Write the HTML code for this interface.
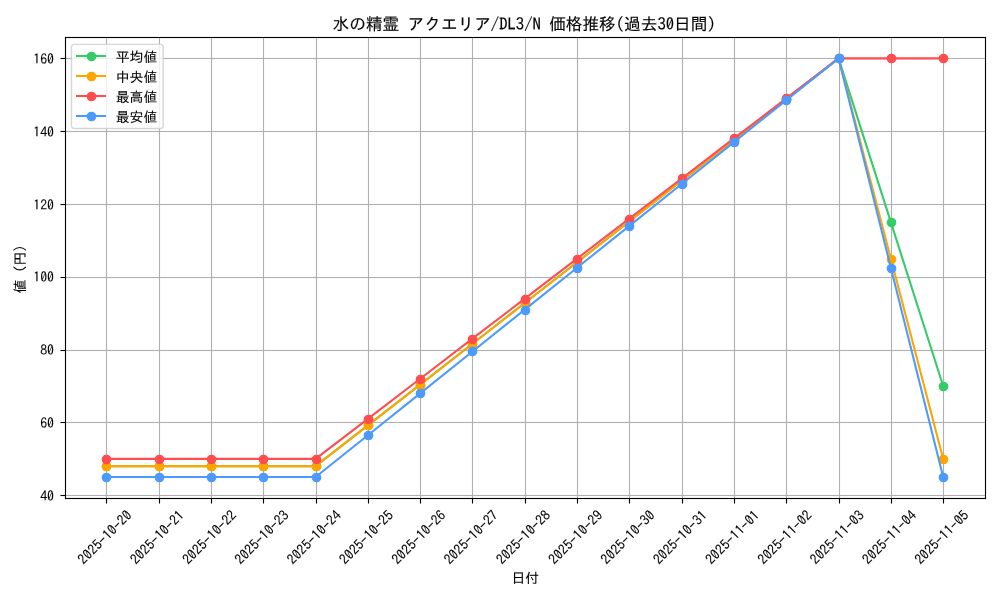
<!DOCTYPE html>
<html lang="ja"><head><meta charset="utf-8"><title>価格推移</title>
<style>html,body{margin:0;padding:0;background:#fff}body{width:1000px;height:600px;overflow:hidden}svg{display:block}text{font-family:IPAGothic,"Liberation Sans","Noto Sans CJK JP",sans-serif;fill:#000}</style></head><body>
<svg width="1000" height="600" viewBox="0 0 1000 600">
<rect width="1000" height="600" fill="#fff"/>
<g stroke="#b0b0b0" stroke-width="1.111" fill="none">
<path d="M106.5 37.40V498.00"/><path d="M159.5 37.40V498.00"/><path d="M211.5 37.40V498.00"/><path d="M263.5 37.40V498.00"/><path d="M316.5 37.40V498.00"/><path d="M368.5 37.40V498.00"/><path d="M420.5 37.40V498.00"/><path d="M472.5 37.40V498.00"/><path d="M525.5 37.40V498.00"/><path d="M577.5 37.40V498.00"/><path d="M629.5 37.40V498.00"/><path d="M682.5 37.40V498.00"/><path d="M734.5 37.40V498.00"/><path d="M786.5 37.40V498.00"/><path d="M839.5 37.40V498.00"/><path d="M891.5 37.40V498.00"/><path d="M943.5 37.40V498.00"/><rect x="64.55" y="494.9445" width="920.45" height="1.111" fill="#b0b0b0" stroke="none"/><rect x="64.55" y="421.9445" width="920.45" height="1.111" fill="#b0b0b0" stroke="none"/><rect x="64.55" y="349.9445" width="920.45" height="1.111" fill="#b0b0b0" stroke="none"/><rect x="64.55" y="276.9445" width="920.45" height="1.111" fill="#b0b0b0" stroke="none"/><rect x="64.55" y="203.9445" width="920.45" height="1.111" fill="#b0b0b0" stroke="none"/><rect x="64.55" y="130.9445" width="920.45" height="1.111" fill="#b0b0b0" stroke="none"/><rect x="64.55" y="57.9445" width="920.45" height="1.111" fill="#b0b0b0" stroke="none"/>
</g>
<g stroke="#000" stroke-width="1.111" fill="none">
<path d="M106.5 498.5v5.00"/><path d="M159.5 498.5v5.00"/><path d="M211.5 498.5v5.00"/><path d="M263.5 498.5v5.00"/><path d="M316.5 498.5v5.00"/><path d="M368.5 498.5v5.00"/><path d="M420.5 498.5v5.00"/><path d="M472.5 498.5v5.00"/><path d="M525.5 498.5v5.00"/><path d="M577.5 498.5v5.00"/><path d="M629.5 498.5v5.00"/><path d="M682.5 498.5v5.00"/><path d="M734.5 498.5v5.00"/><path d="M786.5 498.5v5.00"/><path d="M839.5 498.5v5.00"/><path d="M891.5 498.5v5.00"/><path d="M943.5 498.5v5.00"/><rect x="60.50" y="494.9445" width="5.00" height="1.111" fill="#000" stroke="none"/><rect x="60.50" y="421.9445" width="5.00" height="1.111" fill="#000" stroke="none"/><rect x="60.50" y="349.9445" width="5.00" height="1.111" fill="#000" stroke="none"/><rect x="60.50" y="276.9445" width="5.00" height="1.111" fill="#000" stroke="none"/><rect x="60.50" y="203.9445" width="5.00" height="1.111" fill="#000" stroke="none"/><rect x="60.50" y="130.9445" width="5.00" height="1.111" fill="#000" stroke="none"/><rect x="60.50" y="57.9445" width="5.00" height="1.111" fill="#000" stroke="none"/>
</g>
<g fill="#36cb69" stroke="#36cb69"><polyline points="106.39,466.14 158.69,466.14 210.99,466.14 263.28,466.14 315.58,466.14 367.88,425.36 420.18,384.58 472.48,343.80 524.77,303.02 577.07,262.24 629.37,221.46 681.67,180.68 733.97,139.90 786.27,99.12 838.56,58.34 890.86,222.19 943.16,386.04" fill="none" stroke-width="2.083" stroke-linejoin="round" stroke-linecap="square"/>
<g stroke-width="1.389"><circle cx="106.5" cy="466.5" r="4.167"/><circle cx="159.5" cy="466.5" r="4.167"/><circle cx="211.5" cy="466.5" r="4.167"/><circle cx="263.5" cy="466.5" r="4.167"/><circle cx="316.5" cy="466.5" r="4.167"/><circle cx="368.5" cy="425.5" r="4.167"/><circle cx="420.5" cy="385.5" r="4.167"/><circle cx="472.5" cy="344.5" r="4.167"/><circle cx="525.5" cy="303.5" r="4.167"/><circle cx="577.5" cy="262.5" r="4.167"/><circle cx="629.5" cy="221.5" r="4.167"/><circle cx="682.5" cy="181.5" r="4.167"/><circle cx="734.5" cy="140.5" r="4.167"/><circle cx="786.5" cy="99.5" r="4.167"/><circle cx="839.5" cy="58.5" r="4.167"/><circle cx="891.5" cy="222.5" r="4.167"/><circle cx="943.5" cy="386.5" r="4.167"/></g></g>
<g fill="#ffa500" stroke="#ffa500"><polyline points="106.39,466.14 158.69,466.14 210.99,466.14 263.28,466.14 315.58,466.14 367.88,425.36 420.18,384.58 472.48,343.80 524.77,303.02 577.07,262.24 629.37,221.46 681.67,180.68 733.97,139.90 786.27,99.12 838.56,58.34 890.86,258.60 943.16,458.86" fill="none" stroke-width="2.083" stroke-linejoin="round" stroke-linecap="square"/>
<g stroke-width="1.389"><circle cx="106.5" cy="466.5" r="4.167"/><circle cx="159.5" cy="466.5" r="4.167"/><circle cx="211.5" cy="466.5" r="4.167"/><circle cx="263.5" cy="466.5" r="4.167"/><circle cx="316.5" cy="466.5" r="4.167"/><circle cx="368.5" cy="425.5" r="4.167"/><circle cx="420.5" cy="385.5" r="4.167"/><circle cx="472.5" cy="344.5" r="4.167"/><circle cx="525.5" cy="303.5" r="4.167"/><circle cx="577.5" cy="262.5" r="4.167"/><circle cx="629.5" cy="221.5" r="4.167"/><circle cx="682.5" cy="181.5" r="4.167"/><circle cx="734.5" cy="140.5" r="4.167"/><circle cx="786.5" cy="99.5" r="4.167"/><circle cx="839.5" cy="58.5" r="4.167"/><circle cx="891.5" cy="259.5" r="4.167"/><circle cx="943.5" cy="459.5" r="4.167"/></g></g>
<g fill="#ff4d4f" stroke="#ff4d4f"><polyline points="106.39,458.86 158.69,458.86 210.99,458.86 263.28,458.86 315.58,458.86 367.88,418.81 420.18,378.75 472.48,338.70 524.77,298.65 577.07,258.60 629.37,218.55 681.67,178.49 733.97,138.44 786.27,98.39 838.56,58.34 890.86,58.34 943.16,58.34" fill="none" stroke-width="2.083" stroke-linejoin="round" stroke-linecap="square"/>
<g stroke-width="1.389"><circle cx="106.5" cy="459.5" r="4.167"/><circle cx="159.5" cy="459.5" r="4.167"/><circle cx="211.5" cy="459.5" r="4.167"/><circle cx="263.5" cy="459.5" r="4.167"/><circle cx="316.5" cy="459.5" r="4.167"/><circle cx="368.5" cy="419.5" r="4.167"/><circle cx="420.5" cy="379.5" r="4.167"/><circle cx="472.5" cy="339.5" r="4.167"/><circle cx="525.5" cy="299.5" r="4.167"/><circle cx="577.5" cy="259.5" r="4.167"/><circle cx="629.5" cy="219.5" r="4.167"/><circle cx="682.5" cy="178.5" r="4.167"/><circle cx="734.5" cy="138.5" r="4.167"/><circle cx="786.5" cy="98.5" r="4.167"/><circle cx="839.5" cy="58.5" r="4.167"/><circle cx="891.5" cy="58.5" r="4.167"/><circle cx="943.5" cy="58.5" r="4.167"/></g></g>
<g fill="#4d9aff" stroke="#4d9aff"><polyline points="106.39,477.06 158.69,477.06 210.99,477.06 263.28,477.06 315.58,477.06 367.88,435.19 420.18,393.32 472.48,351.45 524.77,309.57 577.07,267.70 629.37,225.83 681.67,183.95 733.97,142.08 786.27,100.21 838.56,58.34 890.86,267.70 943.16,477.06" fill="none" stroke-width="2.083" stroke-linejoin="round" stroke-linecap="square"/>
<g stroke-width="1.389"><circle cx="106.5" cy="477.5" r="4.167"/><circle cx="159.5" cy="477.5" r="4.167"/><circle cx="211.5" cy="477.5" r="4.167"/><circle cx="263.5" cy="477.5" r="4.167"/><circle cx="316.5" cy="477.5" r="4.167"/><circle cx="368.5" cy="435.5" r="4.167"/><circle cx="420.5" cy="393.5" r="4.167"/><circle cx="472.5" cy="351.5" r="4.167"/><circle cx="525.5" cy="310.5" r="4.167"/><circle cx="577.5" cy="268.5" r="4.167"/><circle cx="629.5" cy="226.5" r="4.167"/><circle cx="682.5" cy="184.5" r="4.167"/><circle cx="734.5" cy="142.5" r="4.167"/><circle cx="786.5" cy="100.5" r="4.167"/><circle cx="839.5" cy="58.5" r="4.167"/><circle cx="891.5" cy="268.5" r="4.167"/><circle cx="943.5" cy="477.5" r="4.167"/></g></g>
<g fill="#000"><rect x="64.9445" y="36.9445" width="1.111" height="462.111"/><rect x="984.9445" y="36.9445" width="1.111" height="462.111"/><rect x="64.9445" y="36.9445" width="921.111" height="1.111"/><rect x="64.9445" y="497.9445" width="921.111" height="1.111"/></g>
<g font-size="13.889" stroke="#000" stroke-width="0.08">
<text transform="translate(83.87 565.30) rotate(-45)">2025-10-20</text><text transform="translate(136.17 565.30) rotate(-45)">2025-10-21</text><text transform="translate(188.46 565.30) rotate(-45)">2025-10-22</text><text transform="translate(240.76 565.30) rotate(-45)">2025-10-23</text><text transform="translate(293.06 565.30) rotate(-45)">2025-10-24</text><text transform="translate(345.36 565.30) rotate(-45)">2025-10-25</text><text transform="translate(397.66 565.30) rotate(-45)">2025-10-26</text><text transform="translate(449.96 565.30) rotate(-45)">2025-10-27</text><text transform="translate(502.25 565.30) rotate(-45)">2025-10-28</text><text transform="translate(554.55 565.30) rotate(-45)">2025-10-29</text><text transform="translate(606.85 565.30) rotate(-45)">2025-10-30</text><text transform="translate(659.15 565.30) rotate(-45)">2025-10-31</text><text transform="translate(711.45 565.30) rotate(-45)">2025-11-01</text><text transform="translate(763.75 565.30) rotate(-45)">2025-11-02</text><text transform="translate(816.04 565.30) rotate(-45)">2025-11-03</text><text transform="translate(868.34 565.30) rotate(-45)">2025-11-04</text><text transform="translate(920.64 565.30) rotate(-45)">2025-11-05</text>
<text x="54.03" y="500.83" text-anchor="end">40</text><text x="54.03" y="428.01" text-anchor="end">60</text><text x="54.03" y="355.19" text-anchor="end">80</text><text x="54.03" y="282.37" text-anchor="end">100</text><text x="54.03" y="209.55" text-anchor="end">120</text><text x="54.03" y="136.72" text-anchor="end">140</text><text x="54.03" y="63.90" text-anchor="end">160</text>
<text x="525.27" y="582.70" text-anchor="middle">日付</text>
<text transform="translate(25.20 269.00) rotate(-90)" text-anchor="middle">値 (円)</text>
</g>
<text x="524.17" y="30.07" stroke="#000" stroke-width="0.15" font-size="16.667" text-anchor="middle">水の精霊 アクエリア/DL3/N 価格推移(過去30日間)</text>
<rect x="71.49" y="44.34" width="91.67" height="84.20" rx="2.78" ry="2.78" fill="#fff" fill-opacity="0.8" stroke="#ccc" stroke-opacity="0.8" stroke-width="1.389"/>
<g font-size="13.889" stroke="#000" stroke-width="0.08">
<g fill="#36cb69" stroke="#36cb69"><path d="M77.00 56.00H105.00" stroke-width="2.083" stroke-linecap="square"/><circle cx="91.50" cy="56.50" r="4.167" stroke-width="1.389"/></g><text x="115.64" y="61.69">平均値</text>
<g fill="#ffa500" stroke="#ffa500"><path d="M77.00 76.00H105.00" stroke-width="2.083" stroke-linecap="square"/><circle cx="91.50" cy="76.50" r="4.167" stroke-width="1.389"/></g><text x="115.64" y="81.69">中央値</text>
<g fill="#ff4d4f" stroke="#ff4d4f"><path d="M77.00 96.00H105.00" stroke-width="2.083" stroke-linecap="square"/><circle cx="91.50" cy="96.50" r="4.167" stroke-width="1.389"/></g><text x="115.64" y="101.69">最高値</text>
<g fill="#4d9aff" stroke="#4d9aff"><path d="M77.00 116.00H105.00" stroke-width="2.083" stroke-linecap="square"/><circle cx="91.50" cy="116.50" r="4.167" stroke-width="1.389"/></g><text x="115.64" y="121.69">最安値</text>
</g>
</svg>
</body></html>
